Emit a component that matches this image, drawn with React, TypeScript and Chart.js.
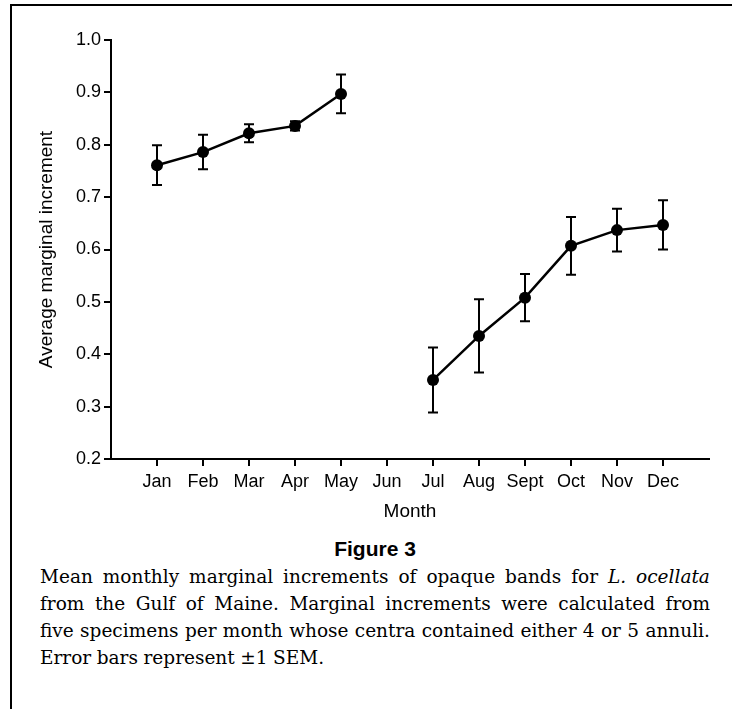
import React, { useEffect, useRef } from "react";
import { Chart, registerables } from "chart.js";

Chart.register(...registerables);

const months = ["Jan", "Feb", "Mar", "Apr", "May", "Jun", "Jul", "Aug", "Sept", "Oct", "Nov", "Dec"];
const meanIncrement: (number | null)[] = [0.761, 0.786, 0.822, 0.836, 0.897, null, 0.351, 0.435, 0.508, 0.607, 0.637, 0.647];
const semIncrement: (number | null)[] = [0.038, 0.033, 0.017, 0.009, 0.037, null, 0.062, 0.07, 0.045, 0.055, 0.041, 0.047];
const yTicks = [0.2, 0.3, 0.4, 0.5, 0.6, 0.7, 0.8, 0.9, 1.0];

// caption: [plain text, italic text] per line
const captionLines: [string, string][] = [
  ["Mean monthly marginal increments of opaque bands for", "L. ocellata"],
  ["from the Gulf of Maine. Marginal increments were calculated from", ""],
  ["five specimens per month whose centra contained either 4 or 5 annuli.", ""],
  ["Error bars represent \u00b11 SEM.", ""],
];

const errorBarPlugin = {
  id: "errorBars",
  beforeDatasetsDraw(chart: any) {
    const { ctx, scales } = chart;
    const x = scales.x;
    const y = scales.y;
    ctx.save();
    ctx.strokeStyle = "#000";
    ctx.lineWidth = 2;
    meanIncrement.forEach((m, i) => {
      const s = semIncrement[i];
      if (m == null || s == null) return;
      const px = x.getPixelForValue(i + 1);
      const top = y.getPixelForValue(m + s);
      const bot = y.getPixelForValue(m - s);
      const cap = 5;
      ctx.beginPath();
      ctx.moveTo(px, top);
      ctx.lineTo(px, bot);
      ctx.moveTo(px - cap, top);
      ctx.lineTo(px + cap, top);
      ctx.moveTo(px - cap, bot);
      ctx.lineTo(px + cap, bot);
      ctx.stroke();
    });
    ctx.restore();
  },
};

export default function App() {
  const ref = useRef<HTMLCanvasElement>(null);

  useEffect(() => {
    if (!ref.current) return;
    Chart.defaults.font.family = "'Liberation Sans', Arial, sans-serif";
    Chart.defaults.color = "#000";
    const chart = new Chart(ref.current, {
      type: "line",
      data: {
        datasets: [
          {
            data: months.map((_, i) => ({ x: i + 1, y: meanIncrement[i] })) as any,
            borderColor: "#000",
            borderWidth: 2.5,
            pointRadius: 6,
            pointBackgroundColor: "#000",
            pointBorderColor: "#000",
            pointBorderWidth: 0,
            spanGaps: false,
            tension: 0,
          },
        ],
      },
      options: {
        responsive: false,
        animation: false,
        layout: { padding: { left: 35, top: 40, right: 23, bottom: 0 } },
        plugins: { legend: { display: false }, tooltip: { enabled: false } },
        scales: {
          x: {
            type: "linear",
            min: 0,
            max: 13,
            afterBuildTicks: (s: any) => {
              s.ticks = months.map((_, i) => ({ value: i + 1 }));
            },
            afterFit: (s: any) => {
              s.height = 71;
            },
            ticks: {
              callback: (v: any) => months[Number(v) - 1] ?? "",
              color: "#000",
              font: { size: 18 },
              padding: 5,
              maxRotation: 0,
              autoSkip: false,
            },
            grid: { display: true, drawOnChartArea: false, drawTicks: true, tickLength: 7, color: "#000", lineWidth: 2 },
            border: { display: true, color: "#000", width: 2 },
            title: { display: true, text: "Month", color: "#000", font: { size: 19 }, padding: { top: 0, bottom: 7 } },
          },
          y: {
            min: 0.2,
            max: 1.0,
            afterBuildTicks: (s: any) => {
              s.ticks = yTicks.map((v) => ({ value: v }));
            },
            afterFit: (s: any) => {
              s.width = 76;
            },
            ticks: {
              callback: (v: any) => Number(v).toFixed(1),
              color: "#000",
              font: { size: 18 },
              padding: 3,
            },
            grid: { display: true, drawOnChartArea: false, drawTicks: true, tickLength: 7, color: "#000", lineWidth: 2 },
            border: { display: true, color: "#000", width: 2 },
            title: {
              display: true,
              text: "Average marginal increment",
              color: "#000",
              font: { size: 19 },
              padding: { top: 0, bottom: 0 },
            },
          },
        },
      },
      plugins: [errorBarPlugin],
    });
    return () => chart.destroy();
  }, []);

  const lineStyle = (last: boolean): React.CSSProperties => ({
    display: "flex",
    flexWrap: "nowrap",
    justifyContent: last ? "flex-start" : "space-between",
    gap: last ? "0.3em" : 0,
    height: 27,
    lineHeight: "27px",
    whiteSpace: "nowrap",
  });

  return (
    <div style={{ position: "absolute", left: 0, top: 0, width: 732, height: 709, overflow: "hidden", background: "#fff" }}>
      <div
        style={{
          position: "absolute",
          left: 10,
          top: 4,
          width: 760,
          height: 760,
          borderTop: "2px solid #000",
          borderLeft: "2px solid #000",
        }}
      />
      <canvas ref={ref} width={732} height={530} style={{ position: "absolute", left: 0, top: 0, width: 732, height: 530 }} />
      <div
        style={{
          position: "absolute",
          left: 40,
          top: 535,
          width: 670,
          textAlign: "center",
          fontFamily: "'Liberation Sans', Arial, sans-serif",
          fontWeight: "bold",
          fontSize: 21,
          lineHeight: "28px",
        }}
      >
        Figure 3
      </div>
      <div
        style={{
          position: "absolute",
          left: 40,
          top: 563,
          width: 670,
          fontFamily: "'DejaVu Serif', serif",
          fontSize: 18.5,
          color: "#000",
        }}
      >
        {captionLines.map(([plain, ital], li) => {
          const last = li === captionLines.length - 1;
          const words = plain.split(" ").map((w) => ({ w, it: false }));
          const itWords = ital ? ital.split(" ").map((w) => ({ w, it: true })) : [];
          return (
            <div key={li} style={lineStyle(last)}>
              {[...words, ...itWords].map((o, wi) =>
                o.it ? <i key={wi}>{o.w}</i> : <span key={wi}>{o.w}</span>
              )}
            </div>
          );
        })}
      </div>
    </div>
  );
}
